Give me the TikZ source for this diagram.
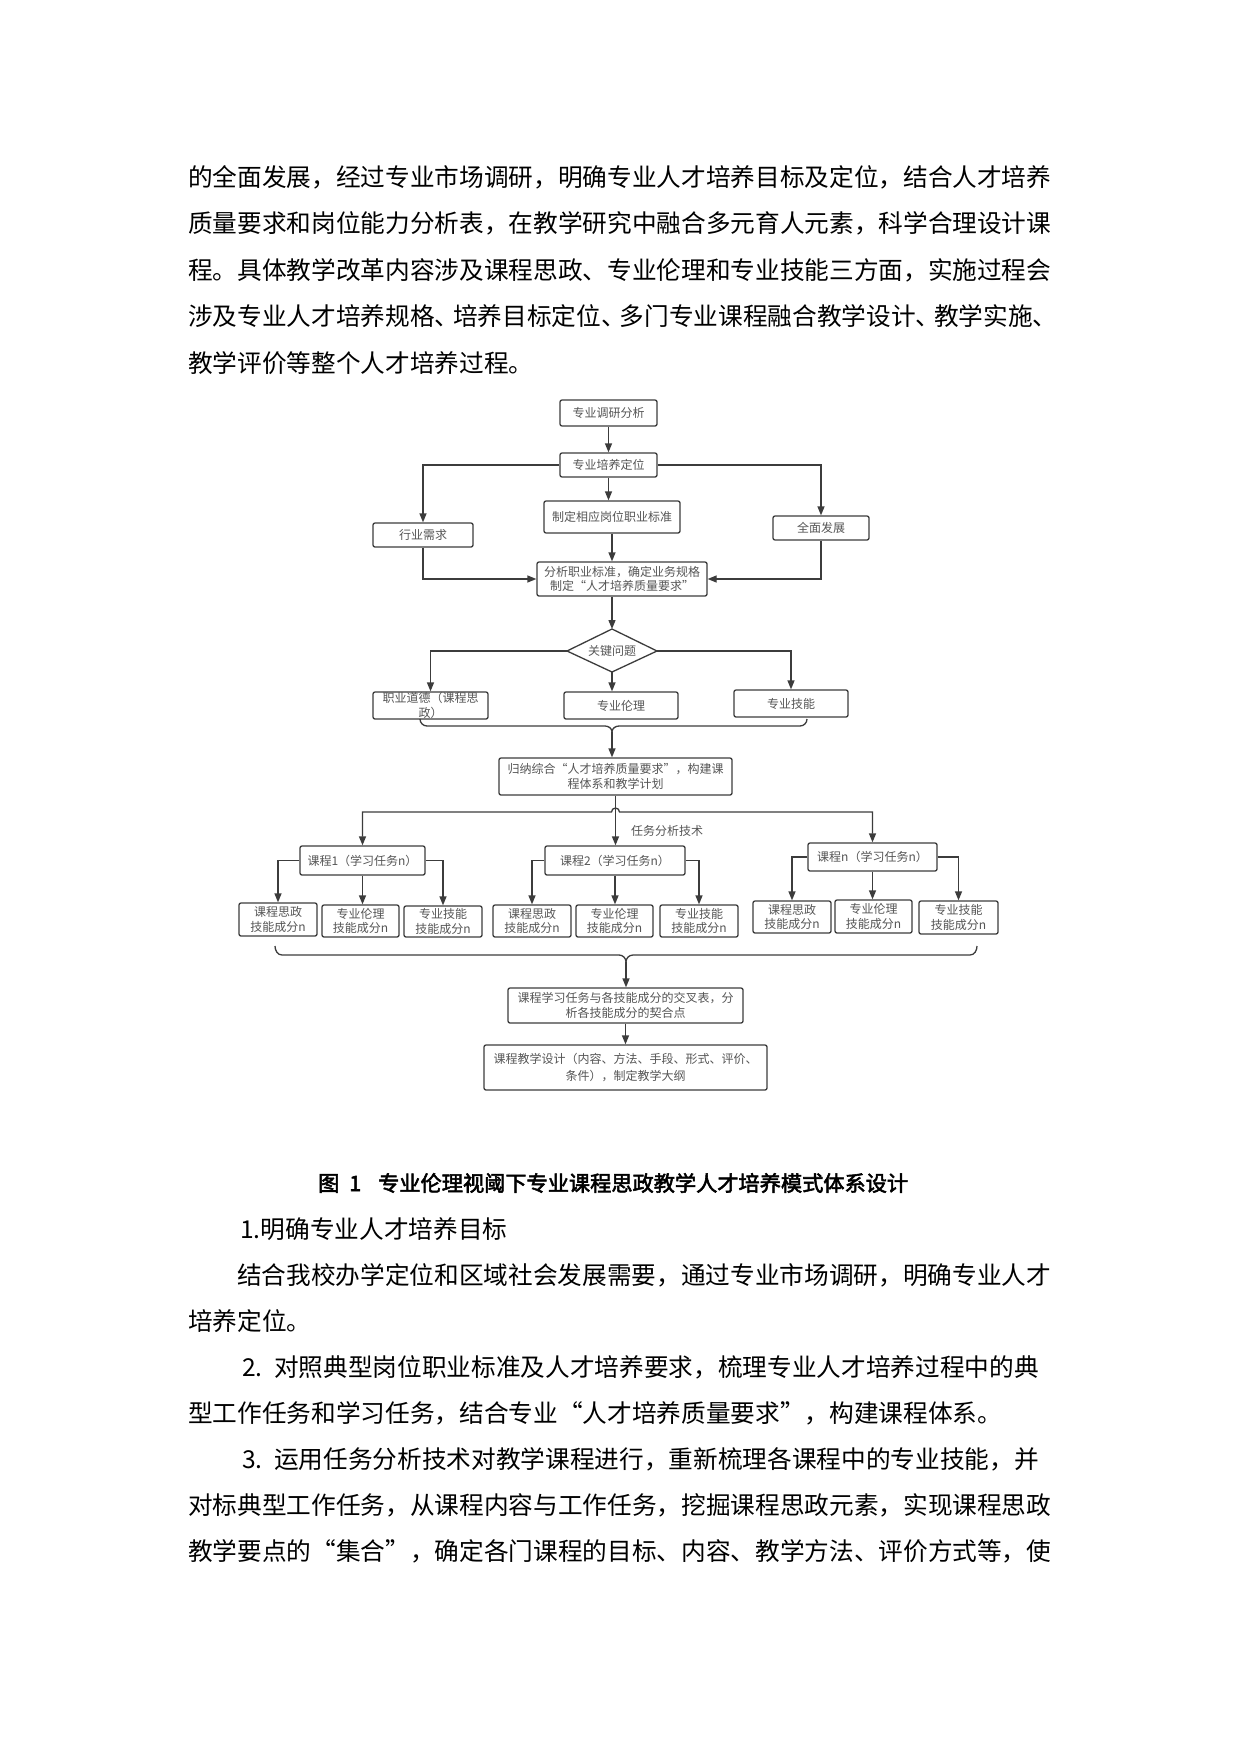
\documentclass[tikz,border=0pt]{standalone}
\usepackage{fontspec}
\usetikzlibrary{arrows.meta}
\setmainfont{Noto Sans CJK SC}
\newfontfamily\cjkbold[FakeBold=2.5]{Noto Sans CJK SC}
\definecolor{lc}{HTML}{3C3C3C}
\definecolor{tc}{HTML}{555555}
\newcommand\qL{\makebox[1em][r]{“}}
\newcommand\qR{\makebox[1em][l]{”}}
\newcommand\dn{\makebox[0.75em][l]{、}}
\begin{document}
\begin{tikzpicture}[x=1pt,y=-1pt,
  bodytext/.style={anchor=west, inner sep=0pt, text=black, font=\fontsize{24.66}{30}\selectfont, text height=21.7pt, text depth=3pt},
  box/.style={draw=lc, line width=1.3pt, rounded corners=2pt, fill=white, text=tc, font=\fontsize{12}{14.5}\selectfont, inner sep=0pt, align=center},
  bx/.style n args={2}{minimum width=#1pt, minimum height=#2pt},
  lne/.style={draw=lc, line width=1.3pt},
  arr/.style={draw=lc, line width=1.3pt, -{Triangle[length=9pt,width=7pt]}},
  arrboth/.style={draw=lc, line width=1.3pt, {Triangle[length=9pt,width=7pt]}-{Triangle[length=9pt,width=7pt]}},
  lbl/.style={text=tc, font=\fontsize{12}{14.5}\selectfont, inner sep=0pt}
]
\useasboundingbox (0,0) rectangle (1240,1753);
\fill[white] (0,0) rectangle (1240,1753);

% ---------- top paragraph ----------
\node[bodytext] (p1) at (188,177) {的全面发展，经过专业市场调研，明确专业人才培养目标及定位，结合人才培养};
\node[bodytext] (p2) at (188,223.5) {质量要求和岗位能力分析表，在教学研究中融合多元育人元素，科学合理设计课};
\node[bodytext] (p3) at (188,270) {程。具体教学改革内容涉及课程思政、专业伦理和专业技能三方面，实施过程会};
\node[bodytext] (p4) at (188,316.5) {涉及专业人才培养规格\dn 培养目标定位\dn 多门专业课程融合教学设计\dn 教学实施\dn};
\node[bodytext] (p5) at (188,363) {教学评价等整个人才培养过程。};

% ---------- flowchart: upper part ----------
\node[box, bx={97}{26}] (n1) at (608.5,413) {专业调研分析};
\node[box, bx={97}{24}] (n2) at (608.5,465) {专业培养定位};
\node[box, bx={136}{32}] (n3) at (612,517) {制定相应岗位职业标准};
\node[box, bx={100}{24}] (n4) at (423,535) {行业需求};
\node[box, bx={96}{24}] (n5) at (821,528) {全面发展};
\node[box, bx={170}{34}] (n6) at (622,579) {分析职业标准，确定业务规格\\制定\qL 人才培养质量要求\qR};

\draw[arr] (n1.south) -- (n2.north);
\draw[arr] (n2.south) -- (n2.south |- n3.north);
\draw[arr] (n2.west) -| (n4.north);
\draw[arr] (n2.east) -| (n5.north);
\draw[arr] (n3.south) -- (n3.south |- n6.north);
\draw[arr] (n4.south) |- (n6.west);
\draw[arr] (n5.south) |- (n6.east);

% diamond
\coordinate (dT) at (612,629);
\coordinate (dB) at (612,672);
\coordinate (dL) at (567,651);
\coordinate (dR) at (657,651);
\draw[lne, fill=white] (dT) -- (dR) -- (dB) -- (dL) -- cycle;
\node[lbl] (d) at (612,651) {关键问题};
\draw[arr] (dT |- n6.south) -- (dT);

\node[box, bx={115}{27}] (k1) at (430.5,705.5) {职业道德（课程思\\政）};
\node[box, bx={114}{27}] (k2) at (621,705.5) {专业伦理};
\node[box, bx={114}{27}] (k3) at (791,703.5) {专业技能};
\draw[arr] (dL) -| (k1.north);
\draw[arr] (dR) -| (k3.north);
\draw[arr] (dB) -- (dB |- k2.north);

% brace 1
\coordinate (b1) at (612,732);
\draw[lne] (420,719) to[out=-90,in=180] (427,726) -- (605,726) to[out=0,in=90] (b1) to[out=90,in=180] (619,726) -- (800,726) to[out=0,in=-90] (807,719);

\node[box, bx={233}{37}] (g) at (615.5,776.5) {归纳综合\qL 人才培养质量要求\qR ，构建课\\程体系和教学计划};
\draw[arr] (b1) -- (b1 |- g.north);

% ---------- courses ----------
\node[box, bx={125}{29}] (c1) at (362.5,860.5) {课程1（学习任务n）};
\node[box, bx={140}{29}] (c2) at (615,860.5) {课程2（学习任务n）};
\node[box, bx={129}{28}] (c3) at (872.5,857) {课程n（学习任务n）};
\node[lbl] (lab) at (667,831) {任务分析技术};

\coordinate (hop) at (615.5,812);
\draw[arrboth] (c1.north) -- (c1.north |- hop) -- ([xshift=-4pt]hop) arc[start angle=180,end angle=0,radius=4pt] -- (c3.north |- hop) -- (c3.north);
\draw[arr] (g.south) -- (g.south |- c2.north);

\node[box, bx={78}{33}] (s1) at (278,919.5) {课程思政\\技能成分n};
\node[box, bx={77}{32}] (s2) at (360.5,921) {专业伦理\\技能成分n};
\node[box, bx={78}{31}] (s3) at (443,921.5) {专业技能\\技能成分n};
\node[box, bx={78}{32}] (s4) at (532,921) {课程思政\\技能成分n};
\node[box, bx={77}{32}] (s5) at (614.5,921) {专业伦理\\技能成分n};
\node[box, bx={78}{32}] (s6) at (699,921) {专业技能\\技能成分n};
\node[box, bx={78}{32}] (s7) at (792,917) {课程思政\\技能成分n};
\node[box, bx={77}{33}] (s8) at (873.5,916.5) {专业伦理\\技能成分n};
\node[box, bx={79}{33}] (s9) at (958.5,917.5) {专业技能\\技能成分n};

\draw[arr] (c1.west) -| (s1.north);
\draw[arr] (c1.south) -- (c1.south |- s2.north);
\draw[arr] (c1.east) -| (s3.north);
\draw[arr] (c2.west) -| (s4.north);
\draw[arr] (c2.south) -- (c2.south |- s5.north);
\draw[arr] (c2.east) -| (s6.north);
\draw[arr] (c3.west) -| (s7.north);
\draw[arr] (c3.south) -- (c3.south |- s8.north);
\draw[arr] (c3.east) -| (s9.north);

% brace 2
\coordinate (b2) at (626,962);
\draw[lne] (275,946) to[out=-90,in=180] (282,955) -- (619,955) to[out=0,in=90] (b2) to[out=90,in=180] (633,955) -- (970,955) to[out=0,in=-90] (977,946);

\node[box, bx={235}{35}] (t) at (625.5,1005.5) {课程学习任务与各技能成分的交叉表，分\\析各技能成分的契合点};
\node[box, bx={283}{45}, font=\fontsize{12}{17.5}\selectfont] (u) at (625.5,1067.5) {课程教学设计（内容、方法、手段、形式、评价、\\条件），制定教学大纲};
\draw[arr] (b2) -- (b2 |- t.north);
\draw[arr] (t.south) -- (u.north);

% ---------- caption ----------
\node[anchor=west, inner sep=0pt, font=\cjkbold\fontsize{21.2}{25}\selectfont, text height=18.7pt, text depth=2.5pt] (cap) at (318,1183) {图\hspace{10pt}1\hspace{17pt}专业伦理视阈下专业课程思政教学人才培养模式体系设计};

% ---------- lower paragraphs ----------
\node[bodytext] (q1) at (240,1229) {1.明确专业人才培养目标};
\node[bodytext] (q2) at (237,1275) {结合我校办学定位和区域社会发展需要，通过专业市场调研，明确专业人才};
\node[bodytext] (q3) at (188,1321) {培养定位。};
\node[bodytext] (q4) at (242,1367) {\makebox[1.3em][l]{2.}对照典型岗位职业标准及人才培养要求，梳理专业人才培养过程中的典};
\node[bodytext] (q5) at (188,1413) {型工作任务和学习任务，结合专业\qL 人才培养质量要求\qR ，构建课程体系。};
\node[bodytext] (q6) at (242,1459) {\makebox[1.3em][l]{3.}运用任务分析技术对教学课程进行，重新梳理各课程中的专业技能，并};
\node[bodytext] (q7) at (188,1505) {对标典型工作任务，从课程内容与工作任务，挖掘课程思政元素，实现课程思政};
\node[bodytext] (q8) at (188,1551) {教学要点的\qL 集合\qR ，确定各门课程的目标、内容、教学方法、评价方式等，使};
\end{tikzpicture}
\end{document}
